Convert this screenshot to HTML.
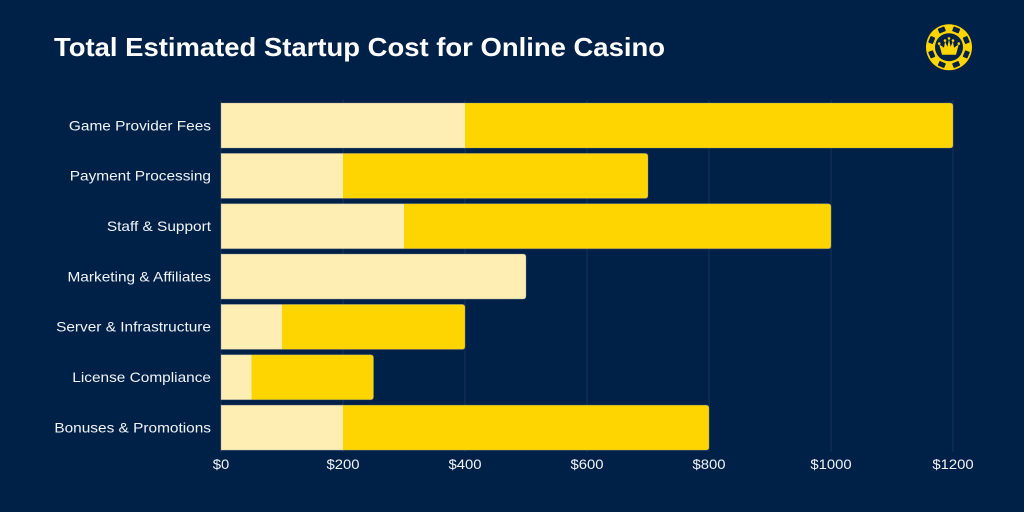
<!DOCTYPE html>
<html>
<head>
<meta charset="utf-8">
<style>
html,body{margin:0;padding:0;background:#002147;}
svg{display:block;}
text{font-family:"Liberation Sans",sans-serif;}
</style>
</head>
<body>
<svg id="chart" xmlns="http://www.w3.org/2000/svg" width="1024" height="512" viewBox="0 0 1024 512">
  <rect width="1024" height="512" fill="#002147"/>
  <text id="title" x="54" y="56" font-size="26" font-weight="700" fill="#ffffff">Total Estimated Startup Cost for Online Casino</text>
  <g id="grid"></g>
  <g id="bars"></g>
  <g id="ylabels"></g>
  <g id="xlabels"></g>
  <g id="logo" transform="translate(949,47.2)">
    <circle r="23" fill="#ffd500"/>
    <circle r="14" fill="#002147"/>
    <g id="chip-notches" fill="#002147"></g>
    <path d="M-7,7.5 L-9.8,-3 L-5,0.5 L-4,-6 L-1.6,-0.5 L0,-8 L1.6,-0.5 L4,-6 L5,0.5 L9.8,-3 L7,7.5 Z" fill="#ffd500"/>
    <circle r="1.3" cx="-9.8" cy="-3.6" fill="#ffd500"/>
    <circle r="1.3" cx="9.8" cy="-3.6" fill="#ffd500"/>
    <circle r="1.3" cx="-4" cy="-6.6" fill="#ffd500"/>
    <circle r="1.3" cx="4" cy="-6.6" fill="#ffd500"/>
    <circle r="1.3" cx="0" cy="-8.8" fill="#ffd500"/>
  </g>
</svg>
<script>
const categories = ["Game Provider Fees","Payment Processing","Staff & Support","Marketing & Affiliates","Server & Infrastructure","License Compliance","Bonuses & Promotions"];
const baseValues = [400,200,300,500,100,50,200];
const addedValues = [800,500,700,0,300,200,600];
const tickValues = [0,200,400,600,800,1000,1200];
const tickLabels = ["$0","$200","$400","$600","$800","$1000","$1200"];

const NS = "http://www.w3.org/2000/svg";
const plot = {left:221, right:953, top:103, step:50.35, barH:45, gridTop:100, gridBottom:452, max:1200};
const xScale = v => plot.left + v * (plot.right - plot.left) / plot.max;
const yScale = i => plot.top + i * plot.step;

function make(tag, parent, attrs){
  const el = document.createElementNS(NS, tag);
  for (const k in attrs) el.setAttribute(k, attrs[k]);
  parent.appendChild(el);
  return el;
}
function barPath(x0, x1, y, h, r){
  if (r <= 0) return `M${x0},${y}H${x1}V${y+h}H${x0}Z`;
  return `M${x0},${y}H${x1-r}Q${x1},${y} ${x1},${y+r}V${y+h-r}Q${x1},${y+h} ${x1-r},${y+h}H${x0}Z`;
}
function stretch(el, factor){
  const w = el.getComputedTextLength();
  el.setAttribute("textLength", (w * factor).toFixed(2));
  el.setAttribute("lengthAdjust", "spacingAndGlyphs");
}

const grid = document.getElementById("grid");
const bars = document.getElementById("bars");
const ylabels = document.getElementById("ylabels");
const xlabels = document.getElementById("xlabels");
const notches = document.getElementById("chip-notches");

tickValues.forEach((v, i) => {
  const line = make("line", grid, {x1:xScale(v), x2:xScale(v), y1:plot.gridTop, y2:plot.gridBottom, stroke:"#14335a", "stroke-width":1});
  
  
  const t = make("text", xlabels, {x:xScale(v), y:469, "text-anchor":"middle", "font-size":14, fill:"#f2f4f7"});
  t.textContent = tickLabels[i];
  
  
  stretch(t, 1.06);
});

categories.forEach((c, i) => {
  const y = yScale(i);
  const base = baseValues[i], added = addedValues[i];
  const x0 = xScale(0), x1 = xScale(base), x2 = xScale(base + added);
  const light = make("path", bars, {d:barPath(x0, x1, y, plot.barH, added > 0 ? 0 : 3), fill:"#ffeeb3"});
  
  
  if (added > 0) {
    const solid = make("path", bars, {d:barPath(x1, x2, y, plot.barH, 3), fill:"#ffd500"});
    
    
  }
  const outline = make("path", bars, {d:barPath(x0, x2, y, plot.barH, 3), fill:"none", stroke:"#8c9098", "stroke-opacity":0.45, "stroke-width":0.8});
  
  
  const t = make("text", ylabels, {x:211, y:y + plot.barH / 2 + 4.8, "text-anchor":"end", "font-size":14, fill:"#f2f4f7"});
  t.textContent = c;
  
  
  stretch(t, 1.1);
});

for (let k = 0; k < 8; k++) {
  const n = make("rect", notches, {x:-3.5, y:-21.2, width:7, height:5, rx:0.8, transform:`rotate(${22.5 + 45 * k})`});
  
  
}

const title = document.getElementById("title");
title.setAttribute("textLength", "611");
title.setAttribute("lengthAdjust", "spacingAndGlyphs");
</script>
</body>
</html>
